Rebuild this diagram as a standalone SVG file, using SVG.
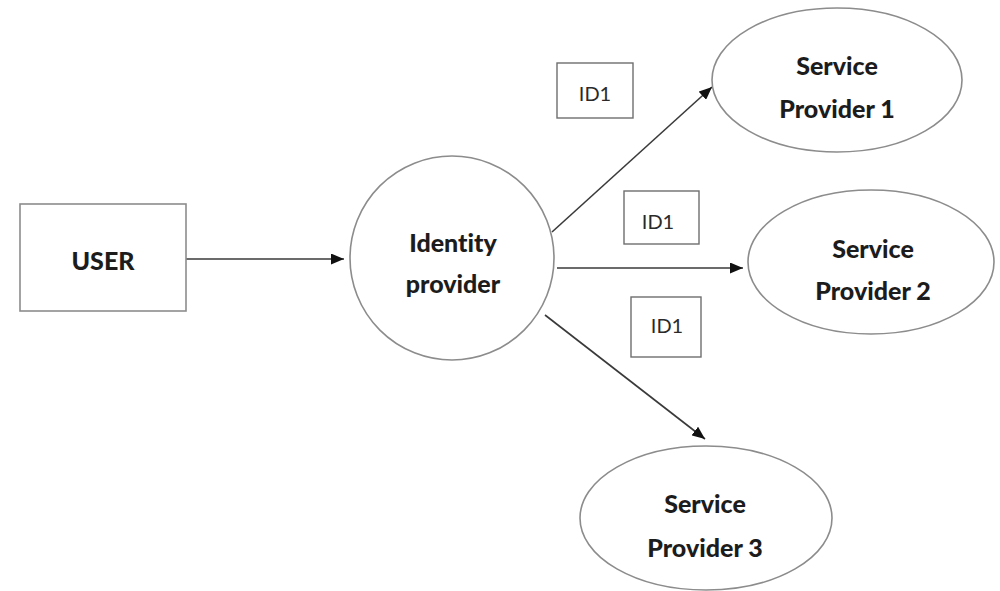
<svg xmlns="http://www.w3.org/2000/svg" width="1000" height="591" viewBox="0 0 1000 591">
  <defs>
    <style>
      .shape { fill: #ffffff; stroke: #8c8c8c; stroke-width: 1.6; }
      .tag { fill: #ffffff; stroke: #6e6e6e; stroke-width: 1.4; }
      .label { font-family: Lato, "Open Sans", sans-serif; font-weight: 900; font-size: 25px; fill: #1c1c1c; text-anchor: middle; font-variant-ligatures: none; }
      .id { font-family: Lato, "Open Sans", sans-serif; font-size: 20px; fill: #2a2a2a; text-anchor: middle; }
      .edge { stroke: #3a3a3a; stroke-width: 1.6; fill: none; marker-end: url(#arrow); }
    </style>
    <marker id="arrow" viewBox="0 0 13 11" refX="13" refY="5.5" markerWidth="13" markerHeight="11" markerUnits="userSpaceOnUse" orient="auto">
      <path d="M0,0 L13,5.5 L0,11 Z" fill="#111111"/>
    </marker>
  </defs>

  <rect width="1000" height="591" fill="#ffffff"/>

  <!-- connectors -->
  <g id="connectors">
    <line class="edge" x1="186" y1="259" x2="344" y2="259"/>
    <line class="edge" x1="552" y1="232" x2="712" y2="87"/>
    <line class="edge" x1="557" y1="268" x2="743" y2="268"/>
    <line class="edge" x1="545" y1="315" x2="705" y2="439"/>
  </g>

  <g id="user">
    <rect class="shape" x="20" y="204" width="166" height="107"/>
    <text class="label" x="103" y="270">USER</text>
  </g>

  <g id="identity-provider">
    <circle class="shape" cx="452" cy="258" r="102"/>
    <text class="label" x="453" y="252">Identity</text>
    <text class="label" x="453" y="293">provider</text>
  </g>

  <g id="service-provider-1">
    <ellipse class="shape" cx="837" cy="80" rx="125" ry="72"/>
    <text class="label" x="837" y="75">Service</text>
    <text class="label" x="837" y="118">Provider 1</text>
  </g>

  <g id="service-provider-2">
    <ellipse class="shape" cx="871" cy="262" rx="123" ry="72"/>
    <text class="label" x="873" y="258">Service</text>
    <text class="label" x="873" y="300">Provider 2</text>
  </g>

  <g id="service-provider-3">
    <ellipse class="shape" cx="706" cy="518" rx="126" ry="72"/>
    <text class="label" x="705" y="513">Service</text>
    <text class="label" x="705" y="557">Provider 3</text>
  </g>

  <g id="id-tag-1">
    <rect class="tag" x="557" y="63" width="76" height="55"/>
    <text class="id" x="595" y="101">ID1</text>
  </g>

  <g id="id-tag-2">
    <rect class="tag" x="624" y="191" width="75" height="53"/>
    <text class="id" x="658" y="229">ID1</text>
  </g>

  <g id="id-tag-3">
    <rect class="tag" x="631" y="297" width="70" height="60"/>
    <text class="id" x="667" y="333">ID1</text>
  </g>
</svg>
